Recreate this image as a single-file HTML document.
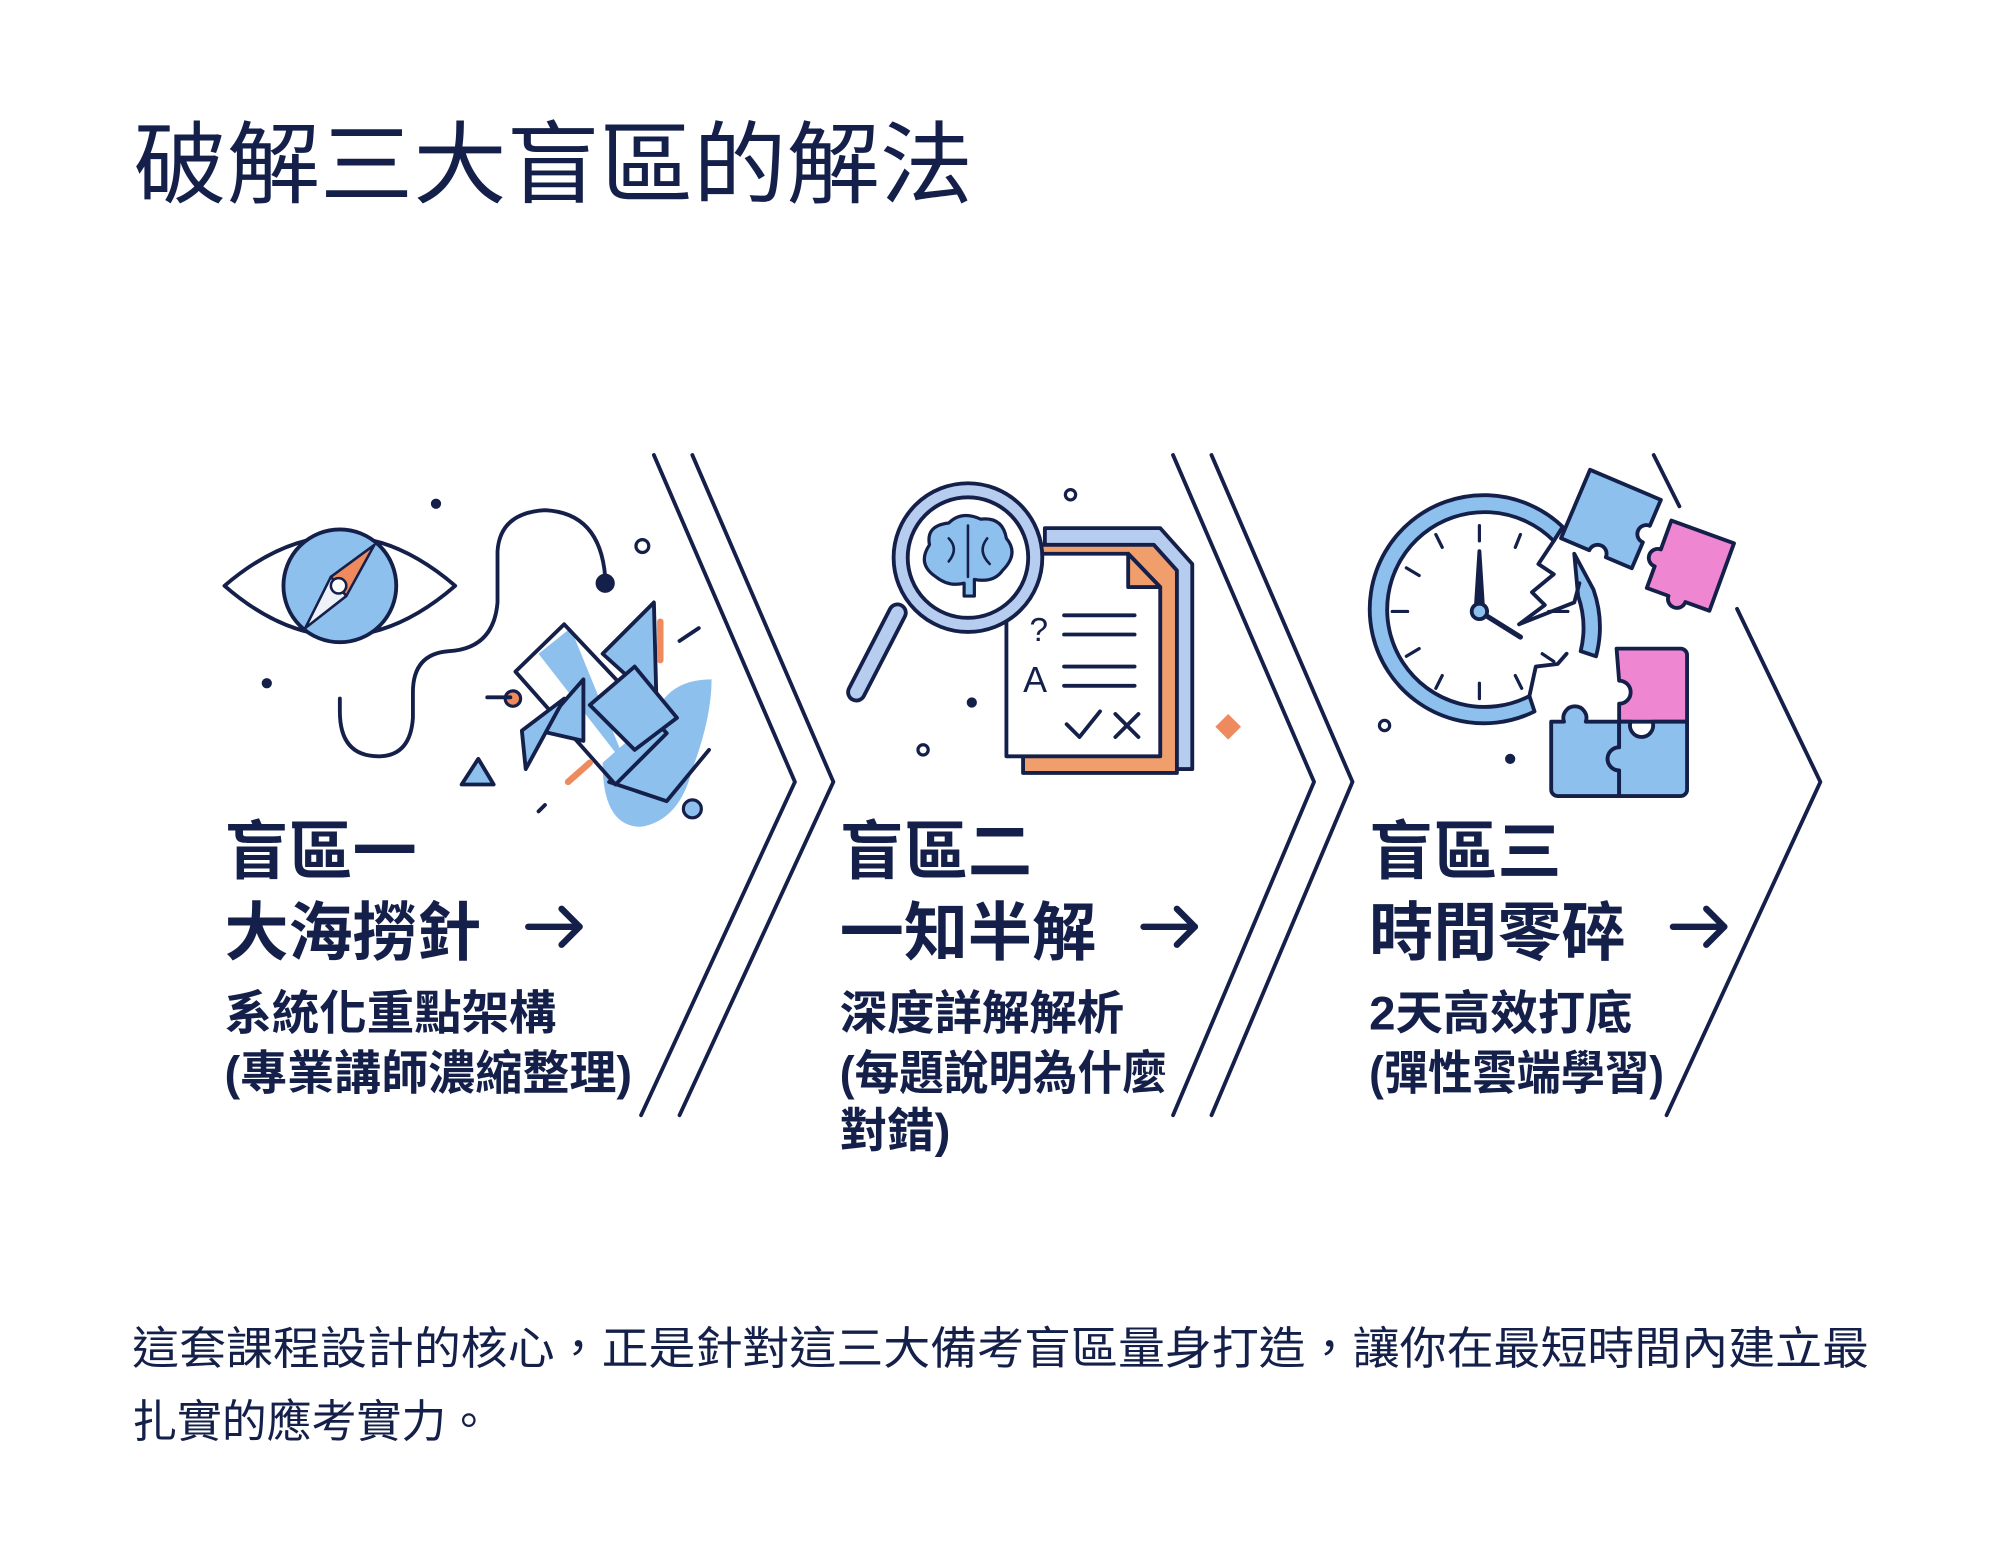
<!DOCTYPE html>
<html><head><meta charset="utf-8">
<style>
html,body{margin:0;padding:0;background:#fff;width:2000px;height:1560px;overflow:hidden}
svg{display:block}
text{font-family:"Liberation Sans","Noto Sans CJK TC",sans-serif;fill:#14204a}
.h{font-weight:700;font-size:50px}
.s{font-weight:700;font-size:37px}
</style></head><body>
<svg width="2000" height="1560" viewBox="0 0 1560 1217" xmlns="http://www.w3.org/2000/svg">
<rect width="1560" height="1217" fill="#fff"/>
<text x="104" y="153" style="font-size:70px;font-weight:400" textLength="655" lengthAdjust="spacingAndGlyphs">破解三大盲區的解法</text>

<g fill="none" stroke="#14204a" stroke-width="3" stroke-linecap="round" stroke-linejoin="round">
 <polyline points="510,355 620,610 500,870"/>
 <polyline points="540,355 650,610 530,870"/>
 <polyline points="915,355 1025,610 915,870"/>
 <polyline points="945,355 1055,610 945,870"/>
 <line x1="1290" y1="355" x2="1310" y2="395"/>
 <polyline points="1355,475 1420,610 1300,870"/>
</g>

<!-- Panel 1 illustration -->
<g stroke="#14204a" stroke-width="3" stroke-linejoin="round" stroke-linecap="round">
 <path d="M175,457 Q265,380 355,457 Q265,535 175,457 Z" fill="#fff"/>
 <circle cx="265" cy="457" r="44" fill="#8ec0ee"/>
 <polygon points="292,425 258,450 270,465" fill="#ef8a5e" stroke-width="2"/>
 <polygon points="258,450 270,465 238,490" fill="#eef2f8" stroke-width="2"/>
 <circle cx="264" cy="457" r="6" fill="#fff" stroke-width="2"/>
 <path d="M265,545 L265,555 Q265,590 295,590 Q320,590 322,560 L322,540 Q322,510 350,508 Q385,506 388,470 L388,430 Q390,400 425,398 Q468,400 472,450" fill="none"/>
 <circle cx="472" cy="455" r="6" fill="#14204a"/>
 <circle cx="501" cy="426" r="5" fill="none" stroke-width="2.5"/>
 <circle cx="400" cy="545" r="6" fill="#ef8a5e" stroke-width="2.5"/>
 <line x1="380" y1="544" x2="398" y2="544"/>
 <polygon points="360,612 373,592 385,612" fill="#8ec0ee"/>
 <circle cx="540" cy="631" r="7" fill="#8ec0ee" stroke-width="2.5"/>
 <path d="M470,595 Q470,645 500,645 Q530,640 540,600 Q555,560 555,530 Q520,530 510,560 Z" fill="#8ec0ee" stroke="none"/>
 <polygon points="445,490 490,600 420,510" fill="#8ec0ee" stroke="none"/>
 <polygon points="402,524 440,487 520,572 480,612" fill="none"/>
 <polygon points="470,510 510,470 512,548" fill="#8ec0ee"/>
 <polygon points="420,570 455,530 455,578" fill="#8ec0ee"/>
 <polygon points="460,550 495,520 528,560 495,585" fill="#8ec0ee"/>
 <polygon points="407,570 440,545 410,600" fill="#8ec0ee"/>
 <polyline points="475,610 520,625 553,585" fill="none"/>
 <line x1="515" y1="485" x2="515" y2="515" stroke="#ef8a5e" stroke-width="5"/>
 <line x1="443" y1="610" x2="460" y2="595" stroke="#ef8a5e" stroke-width="5"/>
 <line x1="530" y1="500" x2="545" y2="490"/>
 <line x1="420" y1="633" x2="425" y2="628"/>
 <circle cx="340" cy="393" r="4" fill="#14204a" stroke="none"/>
 <circle cx="208" cy="533" r="4" fill="#14204a" stroke="none"/>
</g>

<!-- Panel 2 illustration -->
<g stroke="#14204a" stroke-width="3" stroke-linejoin="round" stroke-linecap="round">
 <polygon points="815,412 905,412 930,440 930,600 815,600" fill="#b7cdf0"/>
 <polygon points="798,425 900,425 918,445 918,603 798,603" fill="#ef9e6c"/>
 <polygon points="785,432 880,432 905,458 905,590 785,590" fill="#fff"/>
 <polygon points="880,432 880,458 905,458" fill="#ef9e6c"/>
 <line x1="830" y1="480" x2="885" y2="480"/><line x1="830" y1="495" x2="885" y2="495"/>
 <line x1="830" y1="520" x2="885" y2="520"/><line x1="830" y1="535" x2="885" y2="535"/>
 <text x="803" y="500" stroke="none" style="font-size:26px">?</text>
 <text x="798" y="540" stroke="none" style="font-size:28px">A</text>
 <polyline points="832,565 842,575 858,555" fill="none"/>
 <line x1="870" y1="557" x2="888" y2="575"/><line x1="888" y1="557" x2="870" y2="575"/>
 <line x1="700" y1="478" x2="668" y2="540" stroke-width="16" stroke="#14204a"/>
 <line x1="700" y1="478" x2="668" y2="540" stroke-width="10" stroke="#b7cdf0"/>
 <circle cx="755" cy="435" r="58" fill="#b7cdf0"/>
 <circle cx="755" cy="435" r="47" fill="#fff"/>
 <path d="M730,450 Q715,440 725,425 Q722,410 740,408 Q750,398 765,405 Q782,403 785,420 Q795,432 782,445 Q775,455 760,452 L760,465 L752,465 L752,455 Q740,458 730,450 Z" fill="#8ec0ee" stroke-width="2.5"/>
 <path d="M755,410 L755,450 M740,420 Q748,428 740,438 M770,420 Q762,430 772,440" fill="none" stroke-width="2"/>
 <polygon points="958,557 968,567 958,577 948,567" fill="#ef8a5e" stroke="none"/>
 <circle cx="835" cy="386" r="4" fill="none" stroke-width="2.5"/>
 <circle cx="720" cy="585" r="4" fill="none" stroke-width="2.5"/>
 <circle cx="758" cy="548" r="4" fill="#14204a" stroke="none"/>
</g>

<!-- Panel 3 illustration -->
<g stroke="#14204a" stroke-width="3" stroke-linejoin="round" stroke-linecap="round">
 <!-- clock ring: main arc from ~-50deg (top-right) around left to ~+60deg (bottom-right) -->
 <path d="M1219,411 A89,89 0 1 0 1197,555 L1193,543 A76,76 0 1 1 1212,422 Z" fill="#8ec0ee"/>
 <path d="M1228,432 L1243,460 A89,89 0 0 1 1245,512 L1233,508 A76,76 0 0 0 1231,465 Z" fill="#8ec0ee"/>
 <polyline points="1212,422 1200,440 1212,448 1195,462 1205,472 1185,487" fill="none"/>
 <polyline points="1185,487 1228,470 1232,455 M1205,480 L1218,498 1225,490 1240,520" fill="none"/>
 <polyline points="1193,543 1198,520 1215,518 1222,510" fill="none"/>
 <g stroke-width="2.5">
  <line x1="1154" y1="410" x2="1154" y2="422"/><line x1="1154" y1="533" x2="1154" y2="545"/>
  <line x1="1086" y1="477" x2="1098" y2="477"/><line x1="1120" y1="417" x2="1125" y2="427"/>
  <line x1="1097" y1="443" x2="1107" y2="449"/><line x1="1097" y1="512" x2="1107" y2="506"/>
  <line x1="1120" y1="537" x2="1125" y2="527"/><line x1="1187" y1="537" x2="1182" y2="527"/>
  <line x1="1208" y1="477" x2="1223" y2="477"/><line x1="1203" y1="510" x2="1212" y2="516"/>
  <line x1="1186" y1="417" x2="1182" y2="427"/>
 </g>
 <polygon points="1154,430 1157,477 1151,477" fill="#14204a"/>
 <line x1="1154" y1="477" x2="1186" y2="497" stroke-width="4"/>
 <circle cx="1154" cy="477" r="6" fill="#8ec0ee"/>
 <!-- top puzzle pieces -->
 <g transform="rotate(23 1257 404)">
  <path d="M1227,376 h60 v22 a7,7 0 1 0 0,14 v22 h-22 a7,7 0 1 0 -14,0 h-24 z" fill="#8ec0ee"/>
 </g>
 <g transform="rotate(20 1318 440)">
  <path d="M1293,413 h52 v56 h-20 a7,7 0 1 1 -14,0 h-18 v-18 a7,7 0 1 1 0,-14 z" fill="#ef86d2"/>
 </g>
 <!-- bottom puzzle -->
 <rect x="1211" y="637" width="0" height="0"/>
 <path d="M1216,498 h40 v0 h0" fill="none" stroke="none"/>
 <path d="M1261,506 h50 a5,5 0 0 1 5,5 v52 h-53 v-14 a9,9 0 1 0 0,-18 z" fill="#ef86d2"/>
 <path d="M1210,563 h10 a9,9 0 1 1 17,0 h26 v20 a9,9 0 1 0 0,18 v20 h-48 a5,5 0 0 1 -5,-5 z" fill="#8ec0ee"/>
 <path d="M1263,563 h9 a9,9 0 1 0 17,0 h27 v53 a5,5 0 0 1 -5,5 h-48 v-20 a9,9 0 1 1 0,-18 z" fill="#8ec0ee"/>
 <circle cx="1080" cy="566" r="4" fill="none" stroke-width="2.5"/>
 <circle cx="1178" cy="592" r="4" fill="#14204a" stroke="none"/>
</g>

<!-- Panel texts -->
<g stroke="#14204a" stroke-width="5" fill="none" stroke-linecap="round" stroke-linejoin="round">
 <line x1="412" y1="723" x2="452" y2="723"/><polyline points="438,709 452,723 438,737"/>
 <line x1="892" y1="723" x2="932" y2="723"/><polyline points="918,709 932,723 918,737"/>
 <line x1="1305" y1="723" x2="1345" y2="723"/><polyline points="1331,709 1345,723 1331,737"/>
</g>
<text class="h" x="175" y="682">盲區一</text>
<text class="h" x="175" y="745">大海撈針</text>
<text class="s" x="175" y="803">系統化重點架構</text>
<text class="s" x="175" y="850" textLength="318" lengthAdjust="spacingAndGlyphs">(專業講師濃縮整理)</text>

<text class="h" x="655" y="682">盲區二</text>
<text class="h" x="655" y="745">一知半解</text>
<text class="s" x="655" y="803">深度詳解解析</text>
<text class="s" x="655" y="850" textLength="255" lengthAdjust="spacingAndGlyphs">(每題說明為什麼</text>
<text class="s" x="655" y="895">對錯)</text>

<text class="h" x="1068" y="682">盲區三</text>
<text class="h" x="1068" y="745">時間零碎</text>
<text class="s" x="1068" y="803">2天高效打底</text>
<text class="s" x="1068" y="850" textLength="230" lengthAdjust="spacingAndGlyphs">(彈性雲端學習)</text>

<text x="103" y="1064" style="font-size:35px" textLength="1355" lengthAdjust="spacingAndGlyphs">這套課程設計的核心，正是針對這三大備考盲區量身打造，讓你在最短時間內建立最</text>
<text x="103" y="1121" style="font-size:35px">扎實的應考實力。</text>
</svg>
</body></html>
